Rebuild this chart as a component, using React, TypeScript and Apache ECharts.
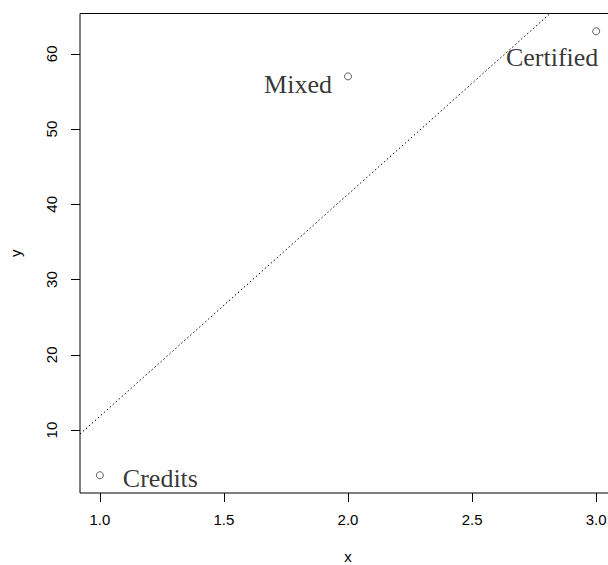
import React, { useEffect, useRef } from "react";
import * as echarts from "echarts";

const labels = ["Credits", "Mixed", "Certified"];
const xValues = [1, 2, 3];
const yValues = [4, 57, 63];
const xTicks = [1, 1.5, 2, 2.5, 3];
const yTicks = [10, 20, 30, 40, 50, 60];

// label placement (styles, not data)
const labelAlign = ["left", "right", "center"];
const labelOffset = [
  [23, 3],
  [-16, 8],
  [-44, 26],
];

function fit(xs: number[], ys: number[]) {
  const n = xs.length;
  const mx = xs.reduce((a, b) => a + b, 0) / n;
  const my = ys.reduce((a, b) => a + b, 0) / n;
  let sxy = 0;
  let sxx = 0;
  for (let i = 0; i < n; i++) {
    sxy += (xs[i] - mx) * (ys[i] - my);
    sxx += (xs[i] - mx) * (xs[i] - mx);
  }
  const b = sxy / sxx;
  return { a: my - b * mx, b };
}

export default function App() {
  const ref = useRef<HTMLDivElement>(null);
  useEffect(() => {
    if (!ref.current) return;
    const chart = echarts.init(ref.current, null, { renderer: "svg" });
    const xr = Math.max(...xValues) - Math.min(...xValues);
    const yr = Math.max(...yValues) - Math.min(...yValues);
    const xMin = Math.min(...xValues) - 0.04 * xr;
    const xMax = Math.max(...xValues) + 0.04 * xr;
    const yMin = Math.min(...yValues) - 0.04 * yr;
    const yMax = Math.max(...yValues) + 0.04 * yr;
    const { a, b } = fit(xValues, yValues);
    const sans = "'Liberation Sans', Arial, sans-serif";
    const serif = "'Liberation Serif', 'Times New Roman', serif";
    chart.setOption({
      animation: false,
      backgroundColor: "#ffffff",
      grid: {
        left: 80,
        top: 13.5,
        right: 0,
        bottom: 72,
        outerBoundsMode: "none",
        containLabel: false,
        show: true,
        borderColor: "#000",
        borderWidth: 1,
        backgroundColor: "transparent",
      },
      xAxis: {
        type: "value",
        min: xMin,
        max: xMax,
        name: "x",
        nameLocation: "middle",
        nameGap: 56,
        nameTextStyle: { fontFamily: sans, fontSize: 15, color: "#000" },
        axisLine: { show: false },
        splitLine: { show: false },
        axisTick: {
          show: true,
          length: 9,
          inside: false,
          customValues: xTicks,
          lineStyle: { color: "#000" },
        },
        axisLabel: {
          customValues: xTicks,
          margin: 19,
          fontFamily: sans,
          fontSize: 15,
          color: "#000",
          formatter: (v: number) => v.toFixed(1),
        },
      },
      yAxis: {
        type: "value",
        min: yMin,
        max: yMax,
        name: "y",
        nameLocation: "middle",
        nameGap: 57,
        nameTextStyle: { fontFamily: sans, fontSize: 15, color: "#000" },
        axisLine: { show: false },
        splitLine: { show: false },
        axisTick: {
          show: true,
          length: 9,
          inside: false,
          customValues: yTicks,
          lineStyle: { color: "#000" },
        },
        axisLabel: {
          customValues: yTicks,
          rotate: 90,
          margin: 21,
          fontFamily: sans,
          fontSize: 15,
          color: "#000",
        },
      },
      series: [
        {
          type: "line",
          data: [
            [xMin, a + b * xMin],
            [xMax, a + b * xMax],
          ],
          showSymbol: false,
          symbol: "none",
          clip: true,
          silent: true,
          lineStyle: { color: "#000", width: 1, type: [1.5, 2.5] },
          z: 2,
        },
        {
          type: "scatter",
          symbol: "circle",
          symbolSize: 7,
          itemStyle: { color: "#fff", borderColor: "#000", borderWidth: 0.8 },
          data: xValues.map((x, i) => ({
            value: [x, yValues[i]],
            label: {
              show: true,
              formatter: labels[i],
              position: "inside",
              align: labelAlign[i],
              verticalAlign: "middle",
              offset: labelOffset[i],
              fontFamily: serif,
              fontSize: 26,
              color: "#000",
              textBorderWidth: 0,
            },
          })),
          z: 3,
        },
      ],
    });
    return () => chart.dispose();
  }, []);
  return (
    <div
      style={{
        position: "absolute",
        left: 0,
        top: 0,
        width: 608,
        height: 565,
        overflow: "hidden",
        background: "#fff",
      }}
    >
      <div ref={ref} style={{ width: 616, height: 565 }} />
    </div>
  );
}
